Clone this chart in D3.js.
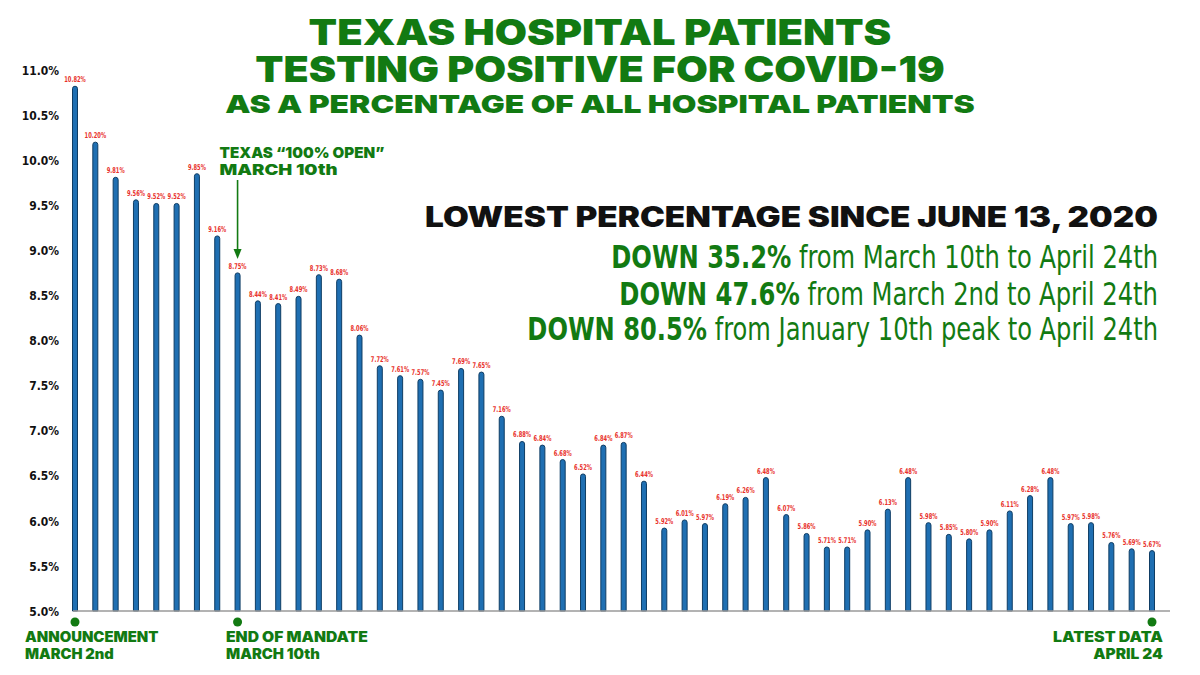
<!DOCTYPE html>
<html>
<head>
<meta charset="utf-8">
<style>
  body { margin: 0; background: #fff; }
  svg { display: block; }
  .heavy { font-family: Inter, "Open Sans", Roboto, sans-serif; font-weight: 900; }
  .narrow { font-family: "Liberation Sans Narrow", "DejaVu Sans Condensed", sans-serif; }
  .y .tick text { font-family: "DejaVu Sans Condensed", "Liberation Sans Narrow", sans-serif; font-weight: 700; font-size: 13px; fill: #111; }
  .y .domain { display: none; }
  .val { font-family: "DejaVu Sans Condensed", "Liberation Sans Narrow", sans-serif; font-weight: 700; font-size: 8px; fill: #e8302a; }
</style>
</head>
<body>
<svg width="1200" height="675"></svg>
<script src="https://d3js.org/d3.v7.min.js"></script>
<script>
// days, March 2 to April 24
const days = [
  "Mar 2", "Mar 3", "Mar 4", "Mar 5", "Mar 6", "Mar 7", "Mar 8", "Mar 9", "Mar 10",
  "Mar 11", "Mar 12", "Mar 13", "Mar 14", "Mar 15", "Mar 16", "Mar 17", "Mar 18",
  "Mar 19", "Mar 20", "Mar 21", "Mar 22", "Mar 23", "Mar 24", "Mar 25", "Mar 26",
  "Mar 27", "Mar 28", "Mar 29", "Mar 30", "Mar 31", "Apr 1", "Apr 2", "Apr 3",
  "Apr 4", "Apr 5", "Apr 6", "Apr 7", "Apr 8", "Apr 9", "Apr 10", "Apr 11", "Apr 12",
  "Apr 13", "Apr 14", "Apr 15", "Apr 16", "Apr 17", "Apr 18", "Apr 19", "Apr 20",
  "Apr 21", "Apr 22", "Apr 23", "Apr 24"
];

const positivePct = [
  10.82, 10.20, 9.81, 9.56, 9.52, 9.52, 9.85, 9.16, 8.75,
  8.44, 8.41, 8.49, 8.73, 8.68, 8.06, 7.72, 7.61,
  7.57, 7.45, 7.69, 7.65, 7.16, 6.88, 6.84, 6.68,
  6.52, 6.84, 6.87, 6.44, 5.92, 6.01, 5.97, 6.19,
  6.26, 6.48, 6.07, 5.86, 5.71, 5.71, 5.90, 6.13, 6.48,
  5.98, 5.85, 5.80, 5.90, 6.11, 6.28, 6.48, 5.97,
  5.98, 5.76, 5.69, 5.67
];

const yTicks = [5.0, 5.5, 6.0, 6.5, 7.0, 7.5, 8.0, 8.5, 9.0, 9.5, 10.0, 10.5, 11.0];

// days that get a green marker under the axis
const markedDays = ["Mar 2", "Mar 10", "Apr 24"];

const titleLines = [
  "TEXAS HOSPITAL PATIENTS",
  "TESTING POSITIVE FOR COVID-19",
  "AS A PERCENTAGE OF ALL HOSPITAL PATIENTS"
];

const downLines = [
  { bold: "DOWN 35.2%", rest: " from March 10th to April 24th" },
  { bold: "DOWN 47.6%", rest: " from March 2nd to April 24th" },
  { bold: "DOWN 80.5%", rest: " from January 10th peak to April 24th" }
];

const green = "#127a12";
const svg = d3.select("svg");

// squeeze/stretch a text horizontally so it spans a given width
function fitWidth(sel, w, ax) {
  const bw = sel.node().getBBox().width;
  const k = w / bw;
  sel.attr("transform", `translate(${ax},0) scale(${k},1) translate(${-ax},0)`);
}

let x = d3.scalePoint()
  .domain(days)
  .range([75, 1152]);

let y = d3.scaleLinear()
  .domain([5, 11])
  .range([611, 70]);

// y axis
svg.append("g")
  .attr("class", "y")
  .attr("transform", "translate(63,0)")
  .call(d3.axisLeft(y).tickValues(yTicks).tickSize(0).tickPadding(4).tickFormat(d => d.toFixed(1) + "%"));
svg.selectAll(".y .tick text").each(function () {
  const t = d3.select(this);
  t.attr("textLength", this.getComputedTextLength() * 0.92).attr("lengthAdjust", "spacingAndGlyphs");
});

// bars with rounded tops
const bw = 5;
function barPath(cx, top, bottom) {
  const r = bw / 2;
  return `M${cx - r},${bottom} V${top + r} A${r},${r} 0 0 1 ${cx + r},${top + r} V${bottom} Z`;
}

const rows = days.map((d, i) => ({ day: d, v: positivePct[i] }));

svg.append("g")
  .selectAll("path")
  .data(rows)
  .join("path")
  .attr("d", d => barPath(x(d.day), y(d.v), y(5)))
  .attr("fill", "#1f6fb2")
  .attr("stroke", "#0f3d64")
  .attr("stroke-width", 1);

// value labels, squeezed horizontally like the condensed original
svg.append("g")
  .selectAll("text")
  .data(rows)
  .join("text")
  .attr("class", "val")
  .attr("x", 0)
  .attr("y", 0)
  .attr("text-anchor", "middle")
  .attr("transform", d => `translate(${x(d.day)},${y(d.v) - 4}) scale(0.72,1)`)
  .text(d => d.v.toFixed(2) + "%");

// baseline
svg.append("line")
  .attr("x1", 73).attr("x2", 1170)
  .attr("y1", y(5)).attr("y2", y(5))
  .attr("stroke", "#9a9a9a")
  .attr("stroke-width", 1.5);

// green markers
svg.append("g")
  .selectAll("circle")
  .data(markedDays)
  .join("circle")
  .attr("cx", d => x(d))
  .attr("cy", 622)
  .attr("r", 4.5)
  .attr("fill", green);

// bottom labels
function twoLine(lines, widths, tx, anchor, y0) {
  lines.forEach((t, i) => {
    const el = svg.append("text")
      .attr("class", "heavy")
      .attr("x", tx).attr("y", y0 + i * 17)
      .attr("text-anchor", anchor)
      .attr("font-size", 14)
      .attr("fill", green)
      .text(t);
    fitWidth(el, widths[i], tx);
  });
}
twoLine(["ANNOUNCEMENT", "MARCH 2nd"], [134, 89], 25, "start", 642);
twoLine(["END OF MANDATE", "MARCH 10th"], [142, 94], 226, "start", 642);
twoLine(["LATEST DATA", "APRIL 24"], [110, 70], 1163, "end", 642);

// title
const titleSpec = [
  { y: 45, size: 36, w: 583 },
  { y: 82, size: 36, w: 690 },
  { y: 113, size: 25, w: 750 }
];
titleLines.forEach((t, i) => {
  const s = titleSpec[i];
  const el = svg.append("text")
    .attr("class", "heavy")
    .attr("x", 600).attr("y", s.y)
    .attr("text-anchor", "middle")
    .attr("font-size", s.size)
    .attr("fill", green)
    .text(t);
  fitWidth(el, s.w, 600);
});

// March 10 annotation with arrow
const ax = x("Mar 10");
const a1 = svg.append("text")
  .attr("class", "heavy")
  .attr("x", ax - 18).attr("y", 158)
  .attr("font-size", 15)
  .attr("fill", green)
  .text("TEXAS \u201C100% OPEN\u201D");
fitWidth(a1, 165, ax - 18);
const a2 = svg.append("text")
  .attr("class", "heavy")
  .attr("x", ax - 18).attr("y", 175)
  .attr("font-size", 15)
  .attr("fill", green)
  .text("MARCH 10th");
fitWidth(a2, 118, ax - 18);
svg.append("line")
  .attr("x1", ax).attr("x2", ax)
  .attr("y1", 180).attr("y2", 252)
  .attr("stroke", green).attr("stroke-width", 1.6);
svg.append("path")
  .attr("d", `M${ax - 4},249 L${ax + 4},249 L${ax},259 Z`)
  .attr("fill", green);

// right side summary
const low = svg.append("text")
  .attr("class", "heavy")
  .attr("x", 1158).attr("y", 227)
  .attr("text-anchor", "end")
  .attr("font-size", 28)
  .attr("fill", "#111")
  .text("LOWEST PERCENTAGE SINCE JUNE 13, 2020");
fitWidth(low, 733, 1158);

const downSpec = [
  { y: 268, left: 611 },
  { y: 305, left: 619 },
  { y: 340, left: 527 }
];
downLines.forEach((d, i) => {
  const el = svg.append("text")
    .attr("class", "narrow")
    .attr("x", 1158).attr("y", downSpec[i].y)
    .attr("text-anchor", "end")
    .attr("font-size", 32)
    .attr("fill", green);
  el.append("tspan").attr("font-weight", 700).text(d.bold);
  el.append("tspan").attr("font-weight", 400).text(d.rest);
  fitWidth(el, 1158 - downSpec[i].left, 1158);
});
</script>
</body>
</html>
